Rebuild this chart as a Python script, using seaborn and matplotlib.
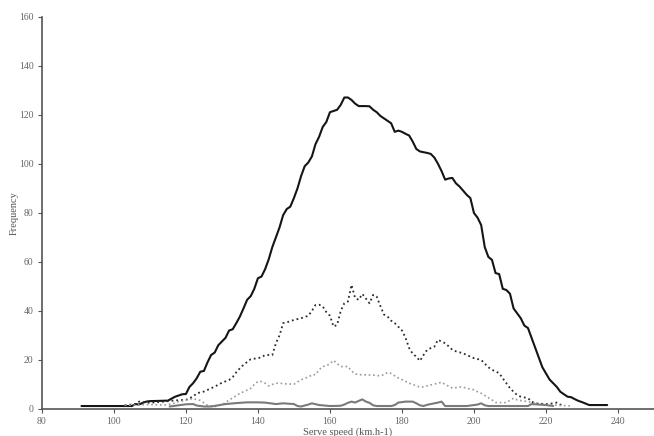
import numpy as np
import pandas as pd
import matplotlib
matplotlib.use('Agg')
import matplotlib.pyplot as plt
import seaborn as sns

# Serve speed (km/h) and frequency for each series
total_x = [91, 105, 106, 107, 108, 109, 110, 115, 117, 119, 120, 121, 122, 123, 124, 125, 126, 127, 128, 129,
           130, 131, 132, 133, 134, 135, 136, 137, 138, 139, 140, 141, 142, 143, 144, 145, 146, 147, 148, 149,
           150, 151, 152, 153, 154, 155, 156, 157, 158, 159, 160, 161, 162, 163, 164, 165, 166, 167, 168, 169,
           170, 171, 172, 173, 174, 175, 176, 177, 178, 179, 180, 181, 182, 183, 184, 185, 186, 187, 188, 189,
           190, 191, 192, 193, 194, 195, 196, 197, 198, 199, 200, 201, 202, 203, 204, 205, 206, 207, 208, 209,
           210, 211, 212, 213, 214, 215, 216, 217, 218, 219, 220, 221, 222, 223, 224, 225, 226, 227, 228, 229,
           230, 231, 232, 237]
total_y = [1.2, 1.2, 2, 1.8, 2.5, 3, 3.2, 3.4, 5, 6, 6.1, 9, 10.5, 12.5, 15.2, 15.5, 19, 22, 23, 26,
           27.5, 29, 32, 32.5, 35, 37.7, 41, 44.5, 46, 49, 53.3, 54, 57, 61, 66, 70, 74, 79, 81.5, 82.5,
           86, 90, 95, 99, 100.5, 103, 108, 111, 115, 117, 121, 121.5, 122, 124, 127, 127, 126, 124.5, 123.5, 123.5,
           123.5, 123.4, 122, 121, 119.5, 118.5, 117.5, 116.5, 113, 113.5, 113, 112.2, 111.5, 109, 106, 105, 104.7, 104.4, 104, 102.5,
           100, 97, 93.5, 94, 94.2, 92, 90.7, 89, 87.3, 86, 79.9, 78, 75, 66, 62, 60.8, 55.4, 55, 49, 48.5,
           47, 41, 39, 37, 34, 33, 29, 25, 21, 17, 14.5, 12, 10.5, 9, 7, 6, 5, 4.8, 4, 3.3,
           2.8, 2.2, 1.6, 1.6]

dense_x = [103, 106, 107, 110, 114, 117, 120, 121, 122, 123, 125, 128, 130, 132, 133, 134, 135, 136, 138, 140,
           141, 142, 144, 145, 146, 147, 148, 150, 152, 154, 155, 156, 157, 158, 159, 160, 161, 162, 163, 164,
           165, 166, 167, 168, 169, 170, 171, 172, 173, 174, 175, 176, 177, 178, 179, 180, 181, 182, 183, 184,
           185, 186, 187, 188, 189, 190, 191, 192, 193, 194, 195, 197, 198, 200, 202, 203, 204, 205, 207, 208,
           209, 210, 211, 212, 213, 215, 216, 217, 220, 222, 223, 224, 225]
dense_y = [1.5, 2, 3, 2.5, 3, 3.5, 3.7, 4.4, 5, 6.4, 7.1, 9.1, 10.7, 11.8, 13, 15, 16.6, 18, 20.3, 20.7,
           21.1, 22, 22, 26.8, 30, 35, 35.3, 36.3, 37, 38, 40, 42.4, 42.5, 41.8, 39.5, 38, 33.6, 34.3, 40, 43.1,
           43.8, 50.6, 45.2, 44.5, 46.9, 45, 43.1, 46.5, 45.8, 42, 38.5, 37.7, 36, 35, 33.5, 32, 29, 24.8, 22.5, 21.3,
           19.6, 22, 24.1, 24.8, 25.4, 28.2, 27.5, 26.8, 25.5, 24.1, 23.5, 22.7, 22, 20.7, 20, 18.5, 17, 16, 14.6, 12.5,
           10.5, 8.5, 7, 5.7, 5, 4.4, 3, 2.3, 2, 2.3, 2.6, 1.8, 1]

light_x = [103, 110, 114, 116, 118, 120, 121, 122, 124, 125, 126, 128, 129, 131, 132, 133, 135, 136, 138, 139,
           140, 141, 142, 143, 144, 145, 146, 148, 150, 151, 152, 154, 155, 156, 157, 158, 159, 160, 161, 162,
           163, 164, 165, 166, 167, 168, 170, 172, 174, 175, 176, 177, 178, 179, 180, 182, 183, 185, 186, 188,
           190, 191, 192, 194, 196, 197, 198, 200, 201, 202, 203, 205, 206, 209, 210, 211, 212, 214, 215, 218,
           222, 227]
light_y = [1.5, 1.8, 1.6, 2, 3, 3.5, 4, 4.2, 3.5, 2.5, 1.5, 1, 1.2, 2.5, 3.7, 4.5, 6.4, 7, 8.4, 10,
           11.2, 11.2, 10.5, 9.4, 10, 10.5, 10.5, 10.2, 10.1, 11, 11.9, 13, 13.9, 14, 16, 17.3, 17.6, 18.5, 19.8, 18.5,
           17.3, 17.3, 17.3, 15.5, 14.3, 14, 13.9, 13.8, 13.5, 14, 14.9, 14.5, 13.5, 12.6, 12, 10.5, 10, 8.9, 9, 9.8,
           10.5, 10.9, 10, 8.5, 8.9, 8.9, 8.4, 7.8, 7, 6.4, 5.5, 3.7, 2.6, 2.6, 3.5, 4.4, 3.7, 3.2, 3, 2,
           1.6, 1.2]

low_x = [115.5, 118, 120, 122, 123, 125, 127, 129, 131, 134, 137, 140, 142, 145, 147, 150, 151, 152, 154, 155,
         157, 160, 163, 164, 165, 166, 167, 168, 169, 170, 171, 172, 173, 177, 178, 179, 181, 183, 184, 185,
         186, 187, 188, 190, 191, 192, 198, 201, 202, 203, 204, 215, 216, 218, 220, 222]
low_y = [1, 1.5, 1.9, 2, 1.4, 1, 1, 1.5, 2, 2.4, 2.7, 2.7, 2.6, 2, 2.3, 2, 1.2, 1, 1.8, 2.3,
         1.6, 1.2, 1.3, 1.8, 2.5, 3, 2.6, 3.3, 3.9, 3, 2.5, 1.5, 1.2, 1.2, 1.6, 2.6, 3, 3, 2.3, 1.5,
         1.2, 1.7, 2, 2.6, 3, 1.2, 1.2, 1.8, 2.3, 1.5, 1.2, 1.2, 2, 1.8, 1.6, 1.2]

x_ticks = [80, 100, 120, 140, 160, 180, 200, 220, 240]
y_ticks = [0, 20, 40, 60, 80, 100, 120, 140, 160]

sns.set_style('white')
plt.rcParams['font.family'] = ['Liberation Serif', 'DejaVu Serif']

fig = plt.figure(figsize=(6.54, 4.36), dpi=100)
ax = fig.add_axes([0.064, 0.062, 0.936, 0.900])

series = [
    (total_x, total_y, '#151515', '-', 1.5),
    (dense_x, dense_y, '#2b2b2b', ':', 1.3),
    (light_x, light_y, '#9a9a9a', ':', 1.2),
    (low_x, low_y, '#7a7a7a', '-', 1.5),
]
for xs, ys, col, ls, lw in series:
    d = pd.DataFrame({'speed': xs, 'freq': ys})
    sns.lineplot(data=d, x='speed', y='freq', ax=ax, color=col, linestyle=ls,
                 linewidth=lw, estimator=None, sort=False)

ax.set_xlim(80, 250)
ax.set_ylim(0, 160)
ax.set_xticks(x_ticks)
ax.set_yticks(y_ticks)
sns.despine(ax=ax)
for side in ['left', 'bottom']:
    ax.spines[side].set_color('#555555')
    ax.spines[side].set_linewidth(1.2)
ax.tick_params(axis='both', direction='out', length=3, width=0.8, color='#555555',
               labelsize=7, labelcolor='#666666', pad=3)
ax.tick_params(axis='x', bottom=True)
ax.tick_params(axis='y', left=True)
ax.set_xlabel('Serve speed (km.h-1)', fontsize=7.5, color='#555555', labelpad=1)
ax.set_ylabel('Frequency', fontsize=7.5, color='#555555')
ax.yaxis.set_label_coords(-0.037, 0.5)

fig.savefig('out.png', dpi=100)
